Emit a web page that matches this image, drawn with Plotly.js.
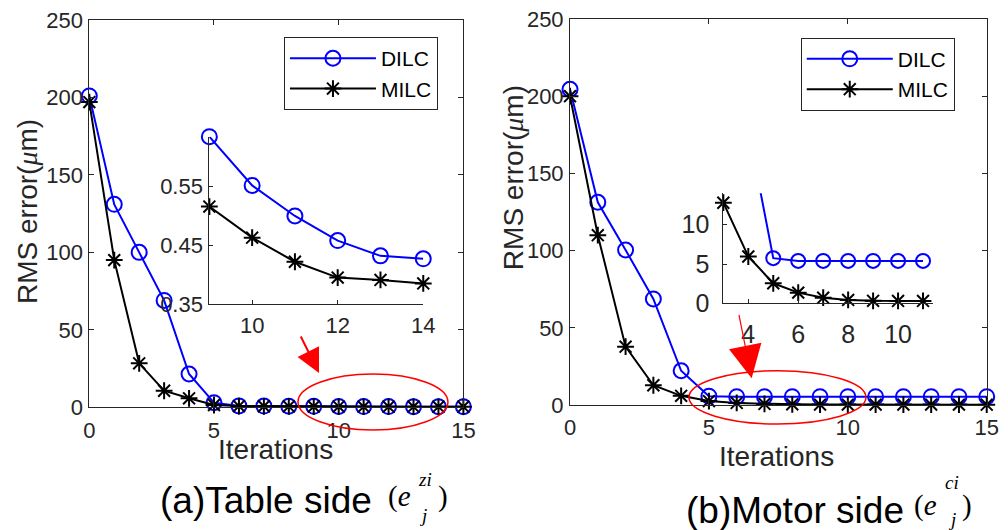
<!DOCTYPE html>
<html>
<head>
<meta charset="utf-8">
<script src="https://cdn.plot.ly/plotly-3.0.1.min.js"></script>
<style>
  html, body { margin: 0; padding: 0; background: #ffffff; }
  #chart { width: 1008px; height: 530px; }
</style>
</head>
<body>
<div id="chart"></div>
<script>
// ---------------- data ----------------
const iterations = [0, 1, 2, 3, 4, 5, 6, 7, 8, 9, 10, 11, 12, 13, 14, 15];

// (a) Table side
const tableDILC = [201, 131, 100, 69, 21.5, 3, 0.9, 0.78, 0.7, 0.635, 0.552, 0.50, 0.458, 0.432, 0.427, 0.425];
const tableMILC = [197, 95, 28.4, 10.7, 5.8, 1.5, 0.8, 0.66, 0.58, 0.516, 0.463, 0.422, 0.395, 0.391, 0.385, 0.383];

// (b) Motor side
const motorDILC = [204.5, 131.3, 100.4, 68.7, 22.2, 5.75, 5.4, 5.4, 5.4, 5.4, 5.4, 5.4, 5.4, 5.4, 5.4, 5.4];
const motorMILC = [200, 110, 37.8, 12.8, 5.96, 2.55, 1.36, 0.72, 0.43, 0.32, 0.3, 0.3, 0.28, 0.27, 0.26, 0.25];

const seriesNames = ['DILC', 'MILC'];

// tick labels
const mainXTicks = [0, 5, 10, 15];
const mainYTicks = [0, 50, 100, 150, 200, 250];
const tableInsetXTicks = [10, 12, 14];
const tableInsetYTicks = [0.35, 0.45, 0.55];
const tableInsetYText = ['0.35', '0.45', '0.55'];
const motorInsetXTicks = [4, 6, 8, 10];
const motorInsetYTicks = [0, 5, 10];

// inset windows (iteration indices shown)
const tableInsetFrom = 9, tableInsetTo = 14;
const motorInsetFrom = 3, motorInsetTo = 11;

// ---------------- styles ----------------
const SANS = 'Liberation Sans, Arial, sans-serif';
const SERIF = 'Liberation Serif, Times New Roman, serif';
const INK = '#262626';
const BLUE = '#0000ff';
const BLACK = '#000000';

function dilcStyle(size) {
  return {
    mode: 'lines+markers',
    line: { color: BLUE, width: 2 },
    marker: { symbol: 'circle-open', size: size, color: BLUE, line: { width: 2, color: BLUE } }
  };
}
function milcStyle(size) {
  return {
    mode: 'lines+markers',
    line: { color: BLACK, width: 2 },
    marker: { symbol: 'asterisk-open', size: size, color: BLACK, line: { width: 2, color: BLACK } }
  };
}

function sl(arr, a, b) { return arr.slice(a, b + 1); }

const traces = [
  // left main
  Object.assign({ x: iterations, y: tableDILC, name: seriesNames[0], xaxis: 'x', yaxis: 'y', legend: 'legend', cliponaxis: false }, dilcStyle(15)),
  Object.assign({ x: iterations, y: tableMILC, name: seriesNames[1], xaxis: 'x', yaxis: 'y', legend: 'legend', cliponaxis: false }, milcStyle(14)),
  // right main
  Object.assign({ x: iterations, y: motorDILC, name: seriesNames[0], xaxis: 'x2', yaxis: 'y2', legend: 'legend2', cliponaxis: false }, dilcStyle(15)),
  Object.assign({ x: iterations, y: motorMILC, name: seriesNames[1], xaxis: 'x2', yaxis: 'y2', legend: 'legend2', cliponaxis: false }, milcStyle(14)),
  // left inset
  Object.assign({ x: sl(iterations, tableInsetFrom, tableInsetTo), y: sl(tableDILC, tableInsetFrom, tableInsetTo), name: seriesNames[0], xaxis: 'x3', yaxis: 'y3', showlegend: false, cliponaxis: false }, dilcStyle(15)),
  Object.assign({ x: sl(iterations, tableInsetFrom, tableInsetTo), y: sl(tableMILC, tableInsetFrom, tableInsetTo), name: seriesNames[1], xaxis: 'x3', yaxis: 'y3', showlegend: false, cliponaxis: false }, milcStyle(14)),
  // right inset (DILC enters from above, clipped)
  Object.assign({ x: sl(iterations, motorInsetFrom + 1, motorInsetTo), y: sl(motorDILC, motorInsetFrom + 1, motorInsetTo), name: seriesNames[0], xaxis: 'x4', yaxis: 'y4', showlegend: false, cliponaxis: true }, dilcStyle(14)),
  Object.assign({ x: sl(iterations, motorInsetFrom, motorInsetTo), y: sl(motorMILC, motorInsetFrom, motorInsetTo), name: seriesNames[1], xaxis: 'x4', yaxis: 'y4', showlegend: false, cliponaxis: false }, milcStyle(14))
];

function axis(extra) {
  return Object.assign({
    showline: true, linecolor: INK, linewidth: 1,
    ticks: 'inside', ticklen: 5, tickcolor: INK, tickwidth: 1,
    showgrid: false, zeroline: false, tickmode: 'array',
    tickfont: { family: SANS, size: 22, color: INK },
    fixedrange: true
  }, extra);
}

function txt(x, y, text, size, family, extra) {
  return Object.assign({ xref: 'paper', yref: 'paper', x: x, y: y, xanchor: 'center', yanchor: 'middle',
    showarrow: false, text: text, font: { family: family, size: size, color: INK } }, extra || {});
}

const yTitle = 'RMS error(<span style="font-family:Liberation Serif"><i>μ</i></span>m)';

const layout = {
  width: 1008, height: 530,
  margin: { l: 0, r: 0, t: 0, b: 0 },
  paper_bgcolor: '#ffffff', plot_bgcolor: 'rgba(0,0,0,0)',
  showlegend: true,
  font: { family: SANS, color: INK },
  xaxis: axis({ domain: [0.0886, 0.4597], range: [0, 15], anchor: 'y', mirror: 'ticks', tickvals: mainXTicks, ticklabelstandoff: 3 }),
  yaxis: axis({ domain: [0.2315, 0.9623], range: [0, 250], anchor: 'x', mirror: 'ticks', tickvals: mainYTicks, ticklabelstandoff: 1 }),
  xaxis2: axis({ domain: [0.5655, 0.9789], range: [0, 15], anchor: 'y2', mirror: 'ticks', tickvals: mainXTicks, ticklabelstandoff: 3 }),
  yaxis2: axis({ domain: [0.2358, 0.9642], range: [0, 250], anchor: 'x2', mirror: 'ticks', tickvals: mainYTicks, ticklabelstandoff: 1 }),
  xaxis3: axis({ domain: [0.2077, 0.4199], range: [9, 14], anchor: 'y3', tickvals: tableInsetXTicks, ticklen: 4, ticklabelstandoff: 2 }),
  yaxis3: axis({ domain: [0.4264, 0.7421], range: [0.35, 0.635], anchor: 'x3', tickvals: tableInsetYTicks, ticktext: tableInsetYText, ticklen: 4, ticklabelstandoff: 1 }),
  xaxis4: axis({ domain: [0.7176, 0.9256], range: [3, 11.4], anchor: 'y4', tickvals: motorInsetXTicks, ticklen: 4, ticklabelstandoff: 9, tickfont: { family: SANS, size: 25, color: INK } }),
  yaxis4: axis({ domain: [0.4277, 0.6353], range: [0, 14], anchor: 'x4', tickvals: motorInsetYTicks, ticklen: 4, ticklabelstandoff: 8, tickfont: { family: SANS, size: 25, color: INK } }),
  legend: {
    x: 0.2817, y: 0.930, xanchor: 'left', yanchor: 'top',
    bgcolor: '#ffffff', bordercolor: INK, borderwidth: 1,
    font: { family: SANS, size: 21, color: '#000000' },
    itemwidth: 86, tracegroupgap: 0
  },
  legend2: {
    x: 0.7944, y: 0.9289, xanchor: 'left', yanchor: 'top',
    bgcolor: '#ffffff', bordercolor: INK, borderwidth: 1,
    font: { family: SANS, size: 21, color: '#000000' },
    itemwidth: 86, tracegroupgap: 0
  },
  shapes: [
    { type: 'circle', xref: 'paper', yref: 'paper', x0: 0.2956, x1: 0.4444, y0: 0.1887, y1: 0.2943, line: { color: '#ff0000', width: 1.5 } },
    { type: 'circle', xref: 'paper', yref: 'paper', x0: 0.6835, x1: 0.8591, y0: 0.2000, y1: 0.3006, line: { color: '#ff0000', width: 1.5 } }
  ],
  annotations: [
    // arrows
    { xref: 'paper', yref: 'paper', x: 0.3165, y: 0.2962, ax: -19, ay: -38, text: '', showarrow: true, arrowhead: 2, arrowsize: 2.4, arrowwidth: 2, arrowcolor: '#ff0000' },
    { xref: 'paper', yref: 'paper', x: 0.7457, y: 0.2862, ax: -13, ay: -65, text: '', showarrow: true, arrowhead: 2, arrowsize: 5.5, arrowwidth: 1.2, arrowcolor: '#ff0000' },
    // axis titles
    txt(0.0268, 0.600, yTitle, 28, SANS, { textangle: -90 }),
    txt(0.509, 0.664, yTitle, 28, SANS, { textangle: -90 }),
    txt(0.2738, 0.1528, 'Iterations', 28, SANS),
    txt(0.7708, 0.1396, 'Iterations', 28, SANS),
    // captions
    txt(0.157, 0.0566, '(a)Table side', 37, SANS, { xanchor: 'left', font: { family: SANS, size: 37, color: '#000000' } }),
    txt(0.383, 0.064, '(<i>e</i>', 29, SERIF, { xanchor: 'left', font: { family: SERIF, size: 29, color: '#000000' } }),
    txt(0.413, 0.0962, '<i>zi</i>', 19, SERIF, { xanchor: 'left', font: { family: SERIF, size: 19, color: '#000000' } }),
    txt(0.414, 0.0283, '<i>j</i>', 19, SERIF, { xanchor: 'left', font: { family: SERIF, size: 19, color: '#000000' } }),
    txt(0.433, 0.064, ')', 29, SERIF, { xanchor: 'left', font: { family: SERIF, size: 29, color: '#000000' } }),

    txt(0.679, 0.0377, '(b)Motor side', 37, SANS, { xanchor: 'left', font: { family: SANS, size: 37, color: '#000000' } }),
    txt(0.905, 0.046, '(<i>e</i>', 29, SERIF, { xanchor: 'left', font: { family: SERIF, size: 29, color: '#000000' } }),
    txt(0.936, 0.0887, '<i>ci</i>', 19, SERIF, { xanchor: 'left', font: { family: SERIF, size: 19, color: '#000000' } }),
    txt(0.938, 0.0189, '<i>j</i>', 19, SERIF, { xanchor: 'left', font: { family: SERIF, size: 19, color: '#000000' } }),
    txt(0.952, 0.046, ')', 29, SERIF, { xanchor: 'left', font: { family: SERIF, size: 29, color: '#000000' } })
  ]
};

Plotly.newPlot('chart', traces, layout, { staticPlot: true, displayModeBar: false });
</script>
</body>
</html>
